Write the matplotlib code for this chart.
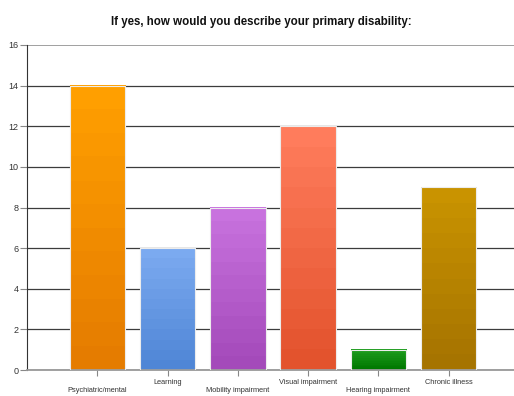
import numpy as np
import matplotlib
matplotlib.use("Agg")
import matplotlib.pyplot as plt
from matplotlib.colors import LinearSegmentedColormap

categories = ["Psychiatric/mental", "Learning", "Mobility impairment",
              "Visual impairment", "Hearing impairment", "Chronic illness"]
counts = [14, 6, 8, 12, 1, 9]
top_colors = ["#FF9F00", "#7BAAF0", "#C872DE", "#FF7C5C", "#1E9C1E", "#C99300"]
bottom_colors = ["#E57C00", "#4F86D6", "#A44ABA", "#E3532D", "#007800", "#A67400"]

plt.rcParams["font.family"] = ["Liberation Sans", "DejaVu Sans"]

fig = plt.figure(figsize=(5.14, 3.96), dpi=100)
ax = fig.add_axes([27 / 514, 26 / 396, 487 / 514, 325 / 396])

x = np.arange(len(categories))
bars = ax.bar(x, counts, width=0.79, color="none", edgecolor="#ececec",
              linewidth=0.8, zorder=3)

# banded vertical gradient inside each bar
for b, c_top, c_bot in zip(bars, top_colors, bottom_colors):
    cmap = LinearSegmentedColormap.from_list("g", [c_bot, c_top], N=12)
    grad = np.linspace(0, 1, 256).reshape(-1, 1)
    x0, y0 = b.get_x(), b.get_y()
    ax.imshow(grad, extent=[x0, x0 + b.get_width(), y0, y0 + b.get_height()],
              origin="lower", cmap=cmap, aspect="auto", zorder=2,
              interpolation="nearest")

ax.set_xlim(-1, 5.93)
ax.set_ylim(0, 16)
ax.set_yticks(range(0, 17, 2))
ax.yaxis.grid(True, color="#3c3c3c", linewidth=0.9, zorder=1)
ax.set_axisbelow(True)
ax.get_ygridlines()[-1].set_color("#999999")
ax.get_ygridlines()[-1].set_linewidth(1.3)

labels = [("\n" + c) if i % 2 == 0 else c for i, c in enumerate(categories)]
ax.set_xticks(x)
ax.set_xticklabels(labels, fontsize=5.3, color="#333333", linespacing=1.25)
ax.tick_params(axis="x", length=4, color="#888888", pad=2.5)
ax.tick_params(axis="y", length=5, color="#888888", labelsize=6.5,
               labelcolor="#333333", pad=1)

for s in ["top", "right"]:
    ax.spines[s].set_visible(False)
ax.spines["left"].set_color("#333333")
ax.spines["bottom"].set_color("#999999")
ax.spines["bottom"].set_linewidth(1.3)

fig.text(0.508, 0.945, "If yes, how would you describe your primary disability:",
         ha="center", va="center", fontsize=8.3, fontweight="bold", color="#111111")

fig.savefig("out.png", dpi=100)
